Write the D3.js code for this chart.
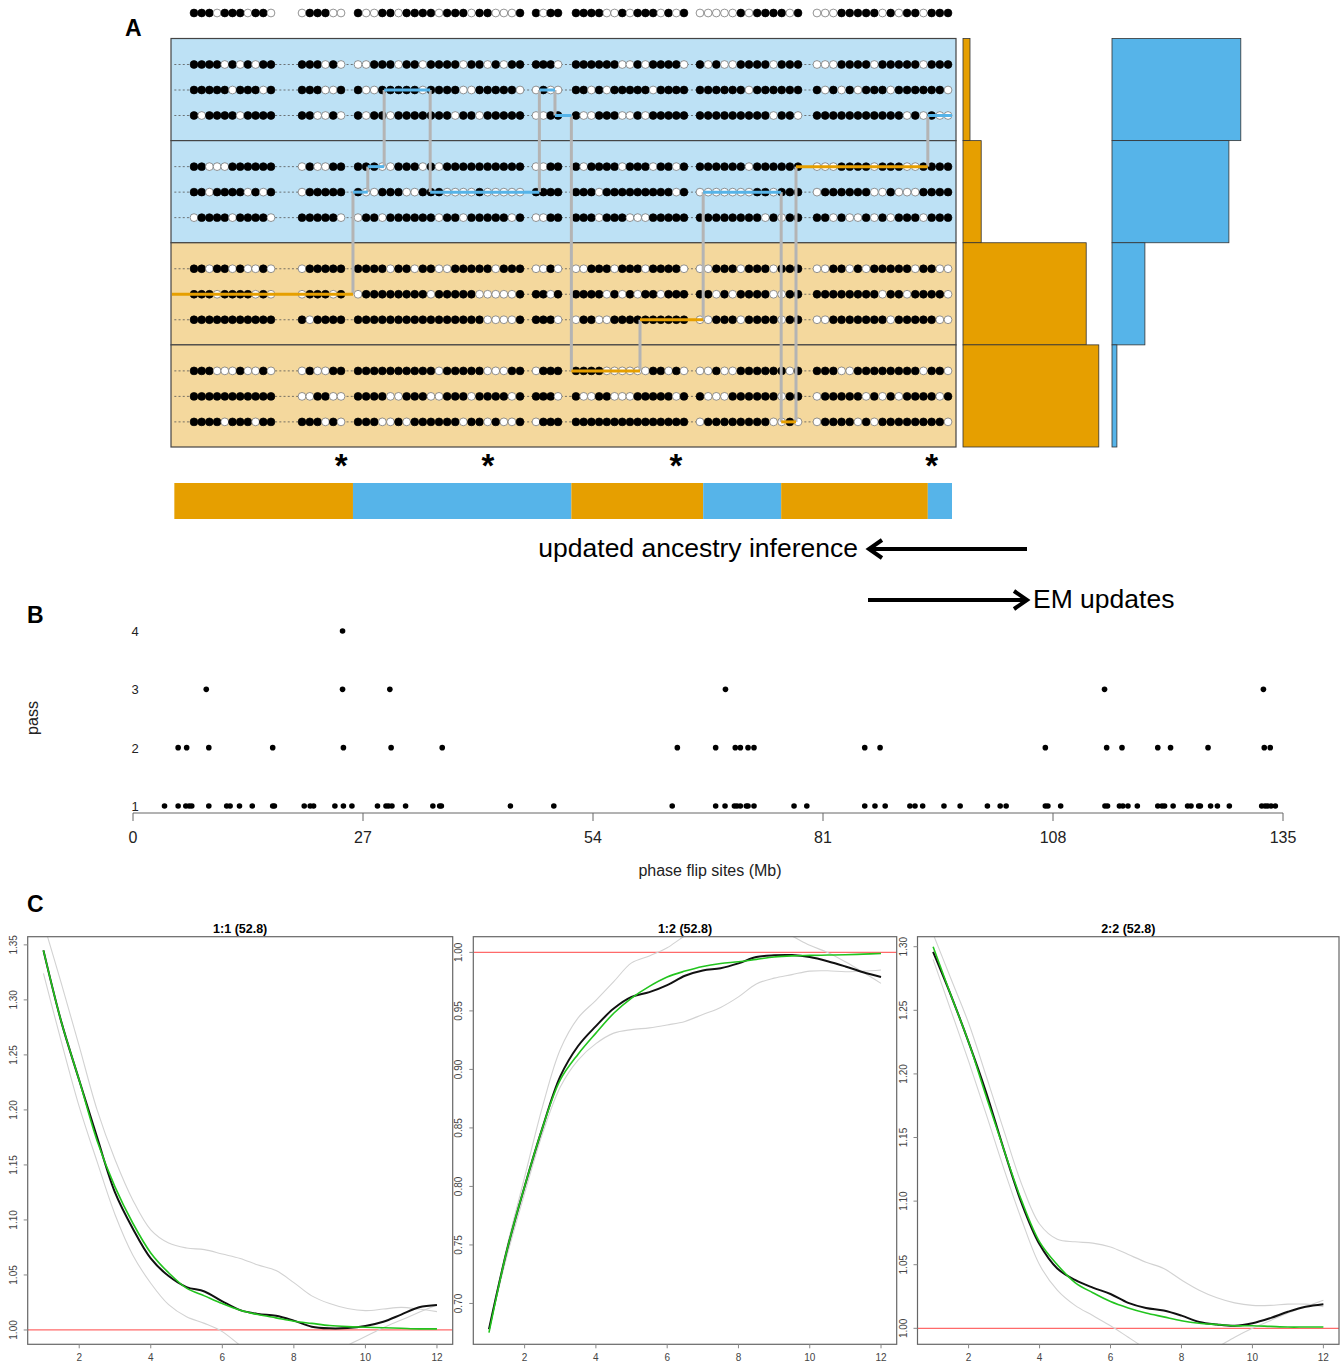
<!DOCTYPE html>
<html>
<head>
<meta charset="utf-8">
<script src="https://cdn.jsdelivr.net/npm/d3@7"></script>
<style>
  body { margin: 0; background: #fff; }
  svg { display: block; font-family: "Liberation Sans", Arial, sans-serif; }
</style>
</head>
<body>
<svg id="fig" width="1344" height="1363"></svg>
<script>
// ---------- Panel A data ----------
// dot blocks (positions in schematic units 0-100), n dots each
const blockStart = [2.82, 16.67, 23.85, 46.67, 51.79, 67.69, 82.69];
const blockEnd   = [12.69, 21.67, 44.62, 49.49, 65.64, 80.26, 99.49];
// 1 = filled allele, 0 = open allele; blocks separated by spaces
const refHap = "11101110110 011100 100110111101110110001 1011 111100101110101 0000010111101 00011111010110111";
const haplotypes = [
  "11110101011 111010 001110110111101101011 1110 111111001011110 1010011110111 00011110111110111",
  "11111011101 111001 100111110111100111110 0100 110101111101111 1111110111111 10101011101111110",
  "10111101111 110010 101101111111011011111 0011 100111001011111 1111111110110 11111111111010100",
  "11000111111 010011 111001110101111111111 0011 101111011101101 1111110111111 00011110111001111",
  "11011110101 011111 100111001110000100000 1111 111011111111101 0000000110111 01111110010001111",
  "01111011110 111110 011011111101101111101 0011 111011100011111 1111111101011 11010010101110111",
  "11011010010 011111 111101101100111110111 0010 001110111011110 0011101110111 00110101111101100",
  "11101111010 011101 011111111011111000001 1101 111101010110111 1101011110011 11111111011011110",
  "11111111111 101111 111111111111111100001 1110 011001111111111 0011101111011 00111111101111100",
  "11100010010 010011 111111111101111100011 0111 111100000011010 0010011111101 11100111111110110",
  "11111111111 001100 111100111001110111101 1110 100110001111101 1000111111011 01111101010111101",
  "11110111011 111010 111001011111101101001 0111 111111111111111 0111111110010 01111010111111110"
];
const groupAncestry = ["blue", "blue", "orange", "orange"];
// copying path: switch points, the (group,row) copied and the inferred ancestry
const pathFrom  = [0, 23.2, 25.1, 27.2, 33.1, 47.1, 49.1, 51.2, 60.0, 68.1, 78.1, 80.0, 96.9];
const pathTo    = [23.2, 25.1, 27.2, 33.1, 47.1, 49.1, 51.2, 60.0, 68.1, 78.1, 80.0, 96.9, 100];
const pathGroup = [2, 1, 1, 0, 1, 0, 0, 3, 2, 1, 3, 1, 0];
const pathRow   = [1, 1, 0, 1, 1, 1, 2, 0, 2, 1, 2, 0, 2];
const pathAnc   = ["orange", "blue", "blue", "blue", "blue", "blue", "blue", "orange", "orange", "blue", "orange", "orange", "blue"];
const asteriskPos = [21.7, 40.5, 64.6, 97.4];
const orangeHist = [0.05, 0.13, 0.88, 0.97];
const blueHist = [0.92, 0.835, 0.235, 0.035];

// ---------- Panel B data (phase flip sites, Mb) ----------
const pass1 = [3.7, 5.3, 6.2, 6.6, 6.9, 8.9, 11.0, 11.4, 12.5, 14.0, 16.4, 16.6, 20.1, 20.8, 21.2, 23.7, 24.7, 25.7,
  28.7, 29.7, 30.0, 30.4, 32.0, 35.2, 36.0, 36.2, 44.3, 49.4, 63.3, 68.4, 69.5, 70.6, 70.9, 71.3, 72.0, 72.2, 72.9,
  77.6, 79.1, 85.9, 87.1, 88.3, 91.2, 91.8, 92.7, 95.2, 97.1, 100.3, 101.8, 102.5, 107.1, 107.4, 108.9, 114.1, 114.4,
  115.8, 116.2, 116.8, 117.9, 120.3, 120.8, 121.1, 122.1, 123.8, 124.2, 125.1, 125.3, 126.5, 127.3, 128.7,
  132.5, 132.9, 133.2, 133.6, 134.1];
const pass2 = [5.3, 6.3, 8.9, 16.4, 24.7, 30.3, 36.3, 63.9, 68.4, 70.7, 71.3, 72.2, 72.9, 85.9, 87.7, 107.1,
  114.3, 116.1, 120.3, 121.8, 126.2, 132.8, 133.5];
const pass3 = [8.6, 24.6, 30.15, 69.55, 114.05, 132.7];
const pass4 = [24.6];
const passTicks = [1, 2, 3, 4];
const mbTicks = [0, 27, 54, 81, 108, 135];

// ---------- Panel C data ----------
const lagX = [1, 1.5, 2, 2.5, 3, 3.5, 4, 4.5, 5, 5.5, 6, 6.5, 7, 7.5, 8, 8.5, 9, 9.5, 10, 10.5, 11, 11.5, 12];
const c11Obs   = [1.345, 1.280, 1.227, 1.175, 1.125, 1.092, 1.065, 1.049, 1.039, 1.035, 1.026, 1.018, 1.0145, 1.013, 1.0085, 1.003, 1.0015, 1.0018, 1.0037, 1.0075, 1.014, 1.0206, 1.0227];
const c11Fit   = [1.345, 1.280, 1.227, 1.172, 1.130, 1.097, 1.070, 1.052, 1.038, 1.031, 1.024, 1.018, 1.014, 1.011, 1.008, 1.006, 1.004, 1.003, 1.0025, 1.002, 1.0015, 1.001, 1.001];
const c11Hi    = [1.370, 1.315, 1.258, 1.200, 1.155, 1.118, 1.091, 1.079, 1.0745, 1.073, 1.069, 1.065, 1.059, 1.054, 1.043, 1.031, 1.024, 1.0195, 1.0176, 1.019, 1.0205, 1.019, 1.0167];
const c11Lo    = [1.324, 1.262, 1.203, 1.153, 1.105, 1.068, 1.0425, 1.023, 1.012, 1.006, 0.9985, 0.986, 0.976, 0.970, 0.967, 0.968, 0.975, 0.986, 0.994, 1.002, 1.009, 1.016, 1.0227];
const c12Obs   = [0.678, 0.745, 0.800, 0.850, 0.894, 0.920, 0.937, 0.952, 0.962, 0.966, 0.972, 0.980, 0.9845, 0.9865, 0.9906, 0.996, 0.9975, 0.9977, 0.996, 0.9925, 0.988, 0.983, 0.979];
const c12Fit   = [0.675, 0.745, 0.800, 0.850, 0.891, 0.913, 0.931, 0.948, 0.961, 0.971, 0.979, 0.984, 0.988, 0.9905, 0.992, 0.994, 0.996, 0.997, 0.9974, 0.9977, 0.998, 0.9985, 0.999];
const c12Hi    = [0.678, 0.748, 0.808, 0.868, 0.917, 0.944, 0.959, 0.975, 0.991, 0.997, 1.004, 1.014, 1.020, 1.024, 1.026, 1.025, 1.021, 1.014, 1.006, 1.000, 0.992, 0.983, 0.9735];
const c12Lo    = [0.678, 0.740, 0.794, 0.845, 0.885, 0.908, 0.922, 0.931, 0.934, 0.9355, 0.938, 0.941, 0.947, 0.953, 0.962, 0.973, 0.978, 0.981, 0.984, 0.9843, 0.9835, 0.984, 0.985];
const c22Obs   = [1.296, 1.262, 1.225, 1.185, 1.140, 1.098, 1.066, 1.047, 1.038, 1.032, 1.027, 1.020, 1.016, 1.014, 1.010, 1.005, 1.003, 1.002, 1.004, 1.008, 1.013, 1.017, 1.019];
const c22Fit   = [1.300, 1.262, 1.225, 1.182, 1.140, 1.100, 1.068, 1.050, 1.036, 1.028, 1.021, 1.016, 1.012, 1.009, 1.006, 1.004, 1.003, 1.002, 1.002, 1.0015, 1.001, 1.001, 1.001];
const c22Hi    = [1.310, 1.275, 1.240, 1.198, 1.155, 1.113, 1.082, 1.070, 1.068, 1.067, 1.064, 1.058, 1.052, 1.047, 1.038, 1.030, 1.024, 1.020, 1.018, 1.018, 1.019, 1.019, 1.017];
const c22Lo    = [1.290, 1.250, 1.210, 1.168, 1.125, 1.085, 1.050, 1.030, 1.018, 1.010, 1.002, 0.993, 0.984, 0.978, 0.975, 0.978, 0.985, 0.993, 1.000, 1.006, 1.012, 1.017, 1.022];
const cTitles = ["1:1 (52.8)", "1:2 (52.8)", "2:2 (52.8)"];
const cYTicks = [[1.00, 1.05, 1.10, 1.15, 1.20, 1.25, 1.30, 1.35],
                 [0.70, 0.75, 0.80, 0.85, 0.90, 0.95, 1.00],
                 [1.00, 1.05, 1.10, 1.15, 1.20, 1.25, 1.30]];
const cYDomain = [[1.0007, 1.3437], [0.678, 1.0005], [0.9993, 1.296]];
const cXTicks = [2, 4, 6, 8, 10, 12];

// ---------- drawing ----------
const svg = d3.select("#fig");
const COL = { blue: "#56b4e9", orange: "#e69f00", blueBg: "#bde1f5", orangeBg: "#f4d89d", grey: "#b4b4b4" };

function panelLabel(t, x, y) {
  svg.append("text").attr("x", x).attr("y", y).attr("font-size", 23).attr("font-weight", "bold").text(t);
}

// ===== Panel A =====
panelLabel("A", 125, 36);
const xA = d3.scaleLinear().domain([0, 100]).range([172, 952]);
const yGroup = d3.scaleBand().domain([0, 1, 2, 3]).range([38.5, 447]);
const yRow = d3.scalePoint().domain([0, 1, 2]).range([26, 77]);
const rowY = (g, r) => yGroup(g) + yRow(r);
const gA = svg.append("g");

gA.selectAll("rect.bg").data(groupAncestry).join("rect")
  .attr("x", xA(0) - 1).attr("y", (d, i) => yGroup(i))
  .attr("width", xA(100) - xA(0) + 5).attr("height", yGroup.bandwidth())
  .attr("fill", d => d === "blue" ? COL.blueBg : COL.orangeBg)
  .attr("stroke", "#444").attr("stroke-width", 1.2);

function dotPositions(hap) {
  const blocks = hap.split(" ");
  const out = [];
  blocks.forEach((b, bi) => {
    const n = b.length;
    for (let k = 0; k < n; k++) {
      const p = n > 1 ? blockStart[bi] + (blockEnd[bi] - blockStart[bi]) * k / (n - 1) : blockStart[bi];
      out.push({ p, v: b[k] === "1" });
    }
  });
  return out;
}

function drawHap(hap, y, dashed) {
  if (dashed) {
    gA.append("line").attr("x1", xA(0.3)).attr("x2", xA(99.5)).attr("y1", y).attr("y2", y)
      .attr("stroke", "#555").attr("stroke-width", 0.8).attr("stroke-dasharray", "2,2.2");
  }
  gA.append("g").selectAll("circle").data(dotPositions(hap)).join("circle")
    .attr("cx", d => xA(d.p)).attr("cy", y).attr("r", 3.9)
    .attr("fill", d => d.v ? "#000" : "#fff")
    .attr("stroke", d => d.v ? "#000" : "#666").attr("stroke-width", 0.7);
}

drawHap(refHap, 13, false);
haplotypes.forEach((h, i) => drawHap(h, rowY(Math.floor(i / 3), i % 3), true));

// copying path
const segs = pathFrom.map((f, i) => ({ from: f, to: pathTo[i], g: pathGroup[i], r: pathRow[i], a: pathAnc[i] }));
segs.forEach((s, i) => {
  if (i > 0) {
    const prev = segs[i - 1];
    gA.append("line").attr("x1", xA(s.from)).attr("x2", xA(s.from))
      .attr("y1", rowY(prev.g, prev.r)).attr("y2", rowY(s.g, s.r))
      .attr("stroke", COL.grey).attr("stroke-width", 3);
  }
});
segs.forEach(s => {
  gA.append("line").attr("x1", xA(s.from)).attr("x2", xA(s.to))
    .attr("y1", rowY(s.g, s.r)).attr("y2", rowY(s.g, s.r))
    .attr("stroke", COL[s.a]).attr("stroke-width", 3);
});

// histograms
const hScale = d3.scaleLinear().domain([0, 1]).range([0, 140]);
gA.selectAll("rect.ho").data(orangeHist).join("rect")
  .attr("x", 963).attr("y", (d, i) => yGroup(i)).attr("width", d => hScale(d)).attr("height", yGroup.bandwidth())
  .attr("fill", COL.orange).attr("stroke", "#333").attr("stroke-width", 0.8);
gA.selectAll("rect.hb").data(blueHist).join("rect")
  .attr("x", 1112).attr("y", (d, i) => yGroup(i)).attr("width", d => hScale(d)).attr("height", yGroup.bandwidth())
  .attr("fill", COL.blue).attr("stroke", "#333").attr("stroke-width", 0.8);

// asterisks
gA.selectAll("text.ast").data(asteriskPos).join("text")
  .attr("x", d => xA(d)).attr("y", 477).attr("text-anchor", "middle")
  .attr("font-size", 33).attr("font-weight", "bold").text("*");

// inferred ancestry bar
const bar = [];
segs.forEach(s => {
  if (bar.length && bar[bar.length - 1].a === s.a) bar[bar.length - 1].to = s.to;
  else bar.push({ from: s.from, to: s.to, a: s.a });
});
gA.selectAll("rect.anc").data(bar).join("rect")
  .attr("x", d => xA(Math.max(d.from, 0.3))).attr("width", d => xA(d.to) - xA(Math.max(d.from, 0.3)))
  .attr("y", 483).attr("height", 36).attr("fill", d => COL[d.a]);

// arrows and text
function arrow(x1, x2, y) {
  const dir = Math.sign(x2 - x1);
  gA.append("line").attr("x1", x1).attr("x2", x2 - dir * 2).attr("y1", y).attr("y2", y)
    .attr("stroke", "#000").attr("stroke-width", 4);
  gA.append("path").attr("d", `M${x2 - dir * 13},${y - 9} L${x2},${y} L${x2 - dir * 13},${y + 9}`)
    .attr("fill", "none").attr("stroke", "#000").attr("stroke-width", 4).attr("stroke-linejoin", "miter");
}
arrow(1027, 869, 549);
arrow(868, 1027, 600);
gA.append("text").attr("x", 858).attr("y", 557).attr("text-anchor", "end").attr("font-size", 26.5)
  .text("updated ancestry inference");
gA.append("text").attr("x", 1033).attr("y", 608).attr("font-size", 26.5).text("EM updates");

// ===== Panel B =====
panelLabel("B", 27, 623);
const xB = d3.scaleLinear().domain([0, 135]).range([133, 1283]);
const yB = d3.scaleLinear().domain([1, 4]).range([806, 631]);
const gB = svg.append("g");
const passes = [pass1, pass2, pass3, pass4];
passes.forEach((arr, i) => {
  gB.append("g").selectAll("circle").data(arr).join("circle")
    .attr("cx", d => xB(d)).attr("cy", yB(i + 1)).attr("r", 2.8).attr("fill", "#000");
});
gB.append("line").attr("x1", xB(0)).attr("x2", xB(135)).attr("y1", 813).attr("y2", 813)
  .attr("stroke", "#666").attr("stroke-width", 1);
gB.selectAll("line.tk").data(mbTicks).join("line")
  .attr("x1", d => xB(d)).attr("x2", d => xB(d)).attr("y1", 813).attr("y2", 821)
  .attr("stroke", "#666").attr("stroke-width", 1);
gB.selectAll("text.tk").data(mbTicks).join("text")
  .attr("x", d => xB(d)).attr("y", 843).attr("text-anchor", "middle").attr("font-size", 16).attr("fill", "#222")
  .text(d => d);
gB.selectAll("text.ptk").data(passTicks).join("text")
  .attr("x", 135).attr("y", d => yB(d) + 5).attr("text-anchor", "middle").attr("font-size", 13).attr("fill", "#222")
  .text(d => d);
gB.append("text").attr("transform", "translate(38,718) rotate(-90)").attr("text-anchor", "middle")
  .attr("font-size", 16).attr("fill", "#222").text("pass");
gB.append("text").attr("x", 710).attr("y", 876).attr("text-anchor", "middle").attr("font-size", 16)
  .attr("fill", "#222").text("phase flip sites (Mb)");

// ===== Panel C =====
panelLabel("C", 27, 912);
const boxes = [[27.7, 452.7], [473.3, 896.7], [917.5, 1339]];
const cData = [[c11Lo, c11Hi, c11Fit, c11Obs], [c12Lo, c12Hi, c12Fit, c12Obs], [c22Lo, c22Hi, c22Fit, c22Obs]];
const cTop = 936.7, cBottom = 1344.3;
boxes.forEach(([l, r], i) => {
  const g = svg.append("g");
  const x = d3.scaleLinear().domain([0.56, 12.44]).range([l, r]);
  const [a, b] = cYDomain[i];
  const pad = (b - a) * 0.04;
  const y = d3.scaleLinear().domain([a - pad, b + pad]).range([cBottom, cTop]);
  const clipId = "clip" + i;
  g.append("clipPath").attr("id", clipId).append("rect")
    .attr("x", l).attr("y", cTop).attr("width", r - l).attr("height", cBottom - cTop);
  const plot = g.append("g").attr("clip-path", `url(#${clipId})`);
  const line = d3.line().x((d, k) => x(lagX[k])).y(d => y(d)).curve(d3.curveCatmullRom);
  plot.append("line").attr("x1", l).attr("x2", r).attr("y1", y(1)).attr("y2", y(1))
    .attr("stroke", "#ff6a6a").attr("stroke-width", 1.3);
  const [lo, hi, fit, obs] = cData[i];
  [lo, hi].forEach(s => plot.append("path").attr("d", line(s)).attr("fill", "none")
    .attr("stroke", "#d2d2d2").attr("stroke-width", 1.1));
  plot.append("path").attr("d", line(obs)).attr("fill", "none").attr("stroke", "#111").attr("stroke-width", 2);
  plot.append("path").attr("d", line(fit)).attr("fill", "none").attr("stroke", "#22c41e").attr("stroke-width", 1.6);
  g.append("rect").attr("x", l).attr("y", cTop).attr("width", r - l).attr("height", cBottom - cTop)
    .attr("fill", "none").attr("stroke", "#666").attr("stroke-width", 1.2);
  // axes
  g.selectAll("line.yt").data(cYTicks[i]).join("line")
    .attr("x1", l - 4).attr("x2", l).attr("y1", d => y(d)).attr("y2", d => y(d)).attr("stroke", "#888");
  g.selectAll("text.yt").data(cYTicks[i]).join("text")
    .attr("transform", d => `translate(${l - 11},${y(d)}) rotate(-90)`)
    .attr("text-anchor", "middle").attr("font-size", 10).attr("fill", "#444").text(d => d.toFixed(2));
  g.selectAll("line.xt").data(cXTicks).join("line")
    .attr("x1", d => x(d)).attr("x2", d => x(d)).attr("y1", cBottom).attr("y2", cBottom + 4).attr("stroke", "#888");
  g.selectAll("text.xt").data(cXTicks).join("text")
    .attr("x", d => x(d)).attr("y", cBottom + 17).attr("text-anchor", "middle").attr("font-size", 10)
    .attr("fill", "#444").text(d => d);
  g.append("text").attr("x", (l + r) / 2).attr("y", cTop - 4).attr("text-anchor", "middle")
    .attr("font-size", 12.5).attr("font-weight", "bold").text(cTitles[i]);
});
</script>
</body>
</html>
